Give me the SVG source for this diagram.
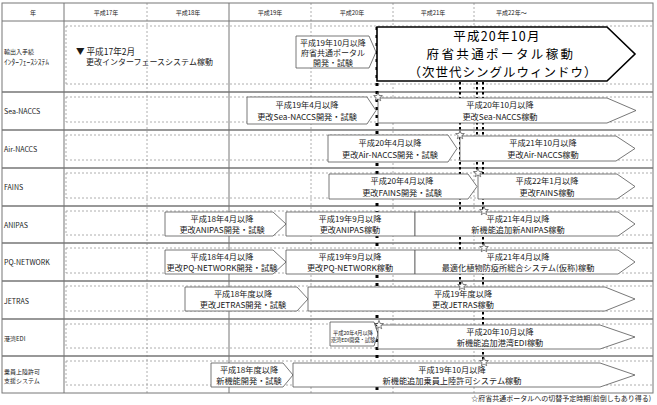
<svg xmlns="http://www.w3.org/2000/svg" xmlns:xlink="http://www.w3.org/1999/xlink" width="657" height="405" viewBox="0 0 657 405">
<style>
text{font-family:"Noto Sans CJK JP","Noto Sans",sans-serif;fill:#1a1a1a}
.hd{font-size:6px;text-anchor:middle}
.lb{font-size:6px}
.lbl{font-size:7px}
.bx{font-size:8.2px;text-anchor:middle}
.sm{font-size:5.2px;text-anchor:middle}
.big{font-size:12.5px;text-anchor:middle;fill:#000}
.solid{stroke:#777;stroke-width:1;fill:none}
.row{stroke:#777;stroke-width:1.6;fill:none}
.dash{stroke:#999;stroke-width:0.8;stroke-dasharray:2 2;fill:none}
.box{fill:#fff;stroke:#555;stroke-width:0.8}
.bigbox{fill:#fff;stroke:#000;stroke-width:1.6}
.thick{stroke:#000;stroke-width:3;stroke-dasharray:3 5;fill:none}
.dot{stroke:#000;stroke-width:2;stroke-dasharray:2.5 2.5;fill:none}
.star{fill:#fff;stroke:#333;stroke-width:0.6}
</style>
<defs>
<path id="star" d="M0,-4.6 L1.14,-1.56 L4.37,-1.42 L1.84,0.6 L2.7,3.72 L0,1.94 L-2.7,3.72 L-1.84,0.6 L-4.37,-1.42 L-1.14,-1.56 Z"/>
</defs>
<rect x="0" y="0" width="657" height="405" fill="#fff"/>
<g id="grid">
<path class="dash" d="M66,26H652M66,84H652M66,97H652M66,122H652M66,135H652M66,160H652M66,173H652M66,198H652M66,211H652M66,235H652M66,248H652M66,273H652M66,286H652M66,311H652M66,324H652M66,348H652M66,361H652M66,385H652"/>
<path class="dash" d="M66,26V84M66,97V122M66,135V160M66,173V198M66,211V235M66,248V273M66,286V311M66,324V348M66,361V385"/>
<path class="dash" d="M147,3V393M311,3V393M393,3V393M474,3V393"/>
<path class="solid" d="M64,3V393M229,3V393"/>
<path class="solid" d="M2,21H653"/>
<path class="row" d="M2,92H653M2,130H653M2,168H653M2,206H653M2,243H653M2,281H653M2,319H653M2,356H653"/>
<rect class="solid" x="2" y="3" width="651" height="390"/>
</g>
<g id="header">
<text class="hd" x="33" y="15">年</text>
<text class="hd" x="106" y="15">平成17年</text>
<text class="hd" x="188" y="15">平成18年</text>
<text class="hd" x="270" y="15">平成19年</text>
<text class="hd" x="352" y="15">平成20年</text>
<text class="hd" x="433" y="15">平成21年</text>
<text class="hd" x="496" y="15" style="text-anchor:start">平成22年～</text>
</g>
<g id="labels">
<text class="lb" x="4" y="54">輸出入手続</text>
<text class="lb" x="4" y="64.5" style="font-size:7.5px">ｲﾝﾀｰﾌｪｰｽｼｽﾃﾑ</text>
<text class="lbl" x="4" y="113.5">Sea-NACCS</text>
<text class="lbl" x="4" y="151.5">Air-NACCS</text>
<text class="lbl" x="4" y="189.5">FAINS</text>
<text class="lbl" x="4" y="227.5">ANIPAS</text>
<text class="lbl" x="4" y="265">PQ-NETWORK</text>
<text class="lbl" x="4" y="303.5">JETRAS</text>
<text class="lb" x="4" y="340.5">港湾EDI</text>
<text class="lb" x="4" y="373.5">乗員上陸許可</text>
<text class="lb" x="4" y="383">支援システム</text>
</g>
<g id="connectors">
<path class="thick" d="M377,27V393"/>
<path class="dot" d="M460,82V286"/>
<path class="dot" d="M477,82V173"/>
<path class="dot" d="M483,82V362"/>
</g>
<g id="n-interface">
<text x="76" y="55" style="font-size:8.6px">▼ 平成17年2月</text>
<text x="86" y="65" style="font-size:8px">更改インターフェースシステム稼動</text>
</g>
<g id="n-portal-dev">
<path class="box" d="M296,36H369L376,52L369,68H296Z"/>
<text class="bx" x="333" y="46" style="font-size:8px">平成19年10月以降</text>
<text class="bx" x="333" y="56" style="font-size:8px">府省共通ポータル</text>
<text class="bx" x="333" y="66" style="font-size:8px">開発・試験</text>
</g>
<g id="n-portal">
<path class="bigbox" d="M377,27H607L635,54L607,81H377Z"/>
<text class="big" x="497" y="40.5" style="letter-spacing:1.2px">平成20年10月</text>
<text class="big" x="501" y="58.7" style="letter-spacing:2.4px">府省共通ポータル稼動</text>
<text class="big" x="503" y="76.9" style="letter-spacing:1px">（次世代シングルウィンドウ）</text>
</g>
<g id="n-sea1">
<path class="box" d="M247,97H367L376,110.5L367,124H247Z"/>
<text class="bx" x="307" y="108">平成19年4月以降</text>
<text class="bx" x="307" y="119.5">更改Sea-NACCS開発・試験</text>
</g>
<g id="n-sea2">
<path class="box" d="M378,98H607L636,110.5L607,123H378Z"/>
<text class="bx" x="500" y="108">平成20年10月以降</text>
<text class="bx" x="500" y="119.5">更改Sea-NACCS稼動</text>
</g>
<g id="n-air1">
<path class="box" d="M328,135H448L457,148.5L448,162H328Z"/>
<text class="bx" x="390" y="146">平成20年4月以降</text>
<text class="bx" x="390" y="157.5">更改Air-NACCS開発・試験</text>
</g>
<g id="n-air2">
<path class="box" d="M460,136H616L635,148.5L616,161H460Z"/>
<text class="bx" x="543" y="146">平成21年10月以降</text>
<text class="bx" x="543" y="157.5">更改Air-NACCS稼動</text>
</g>
<g id="n-fains1">
<path class="box" d="M329,174H468L477,186.5L468,199H329Z"/>
<text class="bx" x="402" y="184">平成20年4月以降</text>
<text class="bx" x="402" y="195.5">更改FAINS開発・試験</text>
</g>
<g id="n-fains2">
<path class="box" d="M478,174H617L635,186.5L617,199H478Z"/>
<text class="bx" x="547" y="184">平成22年1月以降</text>
<text class="bx" x="547" y="195.5">更改FAINS稼動</text>
</g>
<g id="n-anipas1">
<path class="box" d="M165,212H273L286,224L273,236H165Z"/>
<text class="bx" x="222" y="221.5">平成18年4月以降</text>
<text class="bx" x="222" y="233">更改ANIPAS開発・試験</text>
</g>
<g id="n-anipas2">
<path class="box" d="M286,212H415V236H286Z"/>
<text class="bx" x="350" y="221.5">平成19年9月以降</text>
<text class="bx" x="350" y="233">更改ANIPAS稼動</text>
</g>
<g id="n-anipas3">
<path class="box" d="M415,212H618L635,224L618,236H415Z"/>
<text class="bx" x="518" y="221.5">平成21年4月以降</text>
<text class="bx" x="518" y="233">新機能追加新ANIPAS稼動</text>
</g>
<g id="n-pq1">
<path class="box" d="M165,250H273L286,262L273,274H165Z"/>
<text class="bx" x="222" y="259.5">平成18年4月以降</text>
<text class="bx" x="222" y="271">更改PQ-NETWORK開発・試験</text>
</g>
<g id="n-pq2">
<path class="box" d="M286,250H415V274H286Z"/>
<text class="bx" x="350" y="259.5">平成19年9月以降</text>
<text class="bx" x="350" y="271">更改PQ-NETWORK稼動</text>
</g>
<g id="n-pq3">
<path class="box" d="M415,250H618L635,262L618,274H415Z"/>
<text class="bx" x="518" y="259.5">平成21年4月以降</text>
<text class="bx" x="518" y="271">最適化植物防疫所総合システム(仮称)稼動</text>
</g>
<g id="n-jetras1">
<path class="box" d="M185,287H297L308,299L297,311H185Z"/>
<text class="bx" x="243" y="296.5">平成18年度以降</text>
<text class="bx" x="243" y="308">更改JETRAS開発・試験</text>
</g>
<g id="n-jetras2">
<path class="box" d="M308,287H605L635,299L605,311H308Z"/>
<text class="bx" x="463" y="296.5">平成19年度以降</text>
<text class="bx" x="463" y="308">更改JETRAS稼動</text>
</g>
<g id="n-edi1">
<path class="box" d="M330,322H374L378,334L374,346H330Z"/>
<text class="sm" x="353" y="335">平成20年4月以降</text>
<text class="sm" x="353" y="342">港湾EDI開発・試験</text>
</g>
<g id="n-edi2">
<path class="box" d="M378,325H600L635,337L600,349H378Z"/>
<text class="bx" x="500" y="334.5">平成20年10月以降</text>
<text class="bx" x="500" y="346">新機能追加港湾EDI稼動</text>
</g>
<g id="n-crew1">
<path class="box" d="M211,363H283L293,375L283,387H211Z"/>
<text class="bx" x="249" y="372.5">平成18年度以降</text>
<text class="bx" x="249" y="384">新機能開発・試験</text>
</g>
<g id="n-crew2">
<path class="box" d="M293,363H600L635,375L600,387H293Z"/>
<text class="bx" x="452" y="372.5">平成19年10月以降</text>
<text class="bx" x="452" y="384">新機能追加乗員上陸許可システム稼動</text>
</g>
<g id="stars">
<use xlink:href="#star" href="#star" class="star" x="378" y="97"/>
<use xlink:href="#star" href="#star" class="star" x="460" y="135"/>
<use xlink:href="#star" href="#star" class="star" x="478" y="173"/>
<use xlink:href="#star" href="#star" class="star" x="484" y="211"/>
<use xlink:href="#star" href="#star" class="star" x="484" y="248"/>
<use xlink:href="#star" href="#star" class="star" x="462" y="286"/>
<use xlink:href="#star" href="#star" class="star" x="379" y="325"/>
<use xlink:href="#star" href="#star" class="star" x="484" y="362"/>
</g>
<g id="footnote">
<text x="651" y="401" style="font-size:7px;text-anchor:end">☆府省共通ポータルへの切替予定時期(前倒しもあり得る)</text>
</g>
</svg>
